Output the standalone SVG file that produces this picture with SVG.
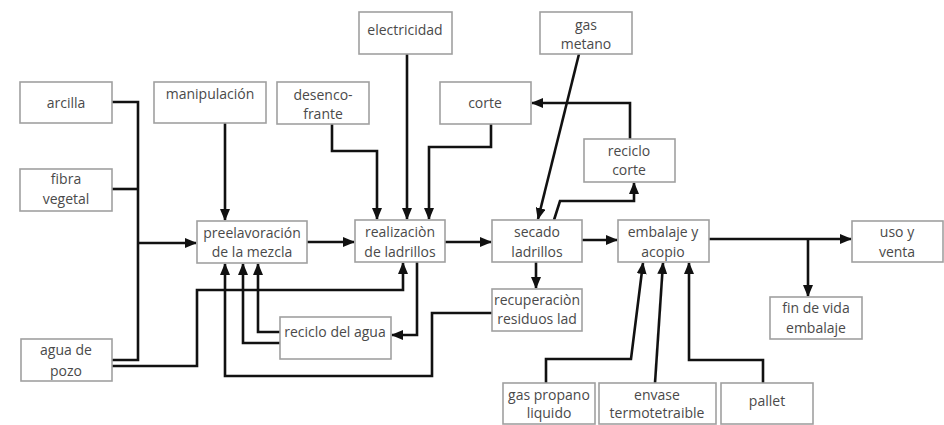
<svg xmlns="http://www.w3.org/2000/svg" width="944" height="425" viewBox="0 0 944 425">
<style>
.box{fill:#fff;stroke:#a0a0a0;stroke-width:1.6}
.t{font-family:"Open Sans","Noto Sans",sans-serif;font-size:14px;fill:#4a4a4a;text-anchor:middle}
.c{fill:none;stroke:#111;stroke-width:2.6;stroke-linejoin:miter}
</style>
<defs>
<marker id="a" markerUnits="userSpaceOnUse" markerWidth="12" markerHeight="10" refX="11" refY="5" orient="auto">
<path d="M0,0 L12,5 L0,10 Z" fill="#111"/>
</marker>
</defs>
<rect width="944" height="425" fill="#fff"/>
<g id="connectors">
<path class="c" d="M112,102 H138 V360 H112"/>
<path class="c" d="M112,189 H138"/>
<path class="c" d="M138,243 H196" marker-end="url(#a)"/>
<path class="c" d="M112,366 H197 V290 H403 V263" marker-end="url(#a)"/>
<path class="c" d="M225,123 V220" marker-end="url(#a)"/>
<path class="c" d="M307,242 H354" marker-end="url(#a)"/>
<path class="c" d="M445,242 H491" marker-end="url(#a)"/>
<path class="c" d="M582,240 H617" marker-end="url(#a)"/>
<path class="c" d="M709,239 H851" marker-end="url(#a)"/>
<path class="c" d="M808,239 V296" marker-end="url(#a)"/>
<path class="c" d="M332,124 V151 H377 V219" marker-end="url(#a)"/>
<path class="c" d="M407,54 V219" marker-end="url(#a)"/>
<path class="c" d="M491,124 V147 H429 V219" marker-end="url(#a)"/>
<path class="c" d="M579,54 L538,219" marker-end="url(#a)"/>
<path class="c" d="M630,139 V103 H532" marker-end="url(#a)"/>
<path class="c" d="M554,220 L560,201 H634 V183" marker-end="url(#a)"/>
<path class="c" d="M536,262 V288" marker-end="url(#a)"/>
<path class="c" d="M492,313 H432 V376 H225 V264" marker-end="url(#a)"/>
<path class="c" d="M417,262 V335 H392" marker-end="url(#a)"/>
<path class="c" d="M280,332 H258 V264" marker-end="url(#a)"/>
<path class="c" d="M280,343 H243 V264" marker-end="url(#a)"/>
<path class="c" d="M546,383 V359 H631 L643,263" marker-end="url(#a)"/>
<path class="c" d="M655,383 L663,263" marker-end="url(#a)"/>
<path class="c" d="M763,383 V360 H689 V263" marker-end="url(#a)"/>
</g>
<g id="arcilla"><rect class="box" x="20" y="82" width="92" height="41"/><text class="t" x="66" y="108">arcilla</text></g>
<g id="fibra"><rect class="box" x="20" y="169" width="92" height="42"/><text class="t" x="66" y="184">fibra</text><text class="t" x="66" y="204">vegetal</text></g>
<g id="agua-pozo"><rect class="box" x="21" y="339" width="91" height="42"/><text class="t" x="66" y="355">agua de</text><text class="t" x="66" y="376">pozo</text></g>
<g id="manipulacion"><rect class="box" x="154" y="82" width="112" height="41"/><text class="t" x="210" y="99">manipulación</text></g>
<g id="desencofrante"><rect class="box" x="277" y="82" width="92" height="42"/><text class="t" x="323" y="100">desenco-</text><text class="t" x="323" y="119">frante</text></g>
<g id="electricidad"><rect class="box" x="359" y="12" width="93" height="42"/><text class="t" x="405" y="35">electricidad</text></g>
<g id="corte"><rect class="box" x="440" y="82" width="91" height="42"/><text class="t" x="485" y="108">corte</text></g>
<g id="gas-metano"><rect class="box" x="540" y="12" width="92" height="42"/><text class="t" x="586" y="30">gas</text><text class="t" x="586" y="49">metano</text></g>
<g id="reciclo-corte"><rect class="box" x="584" y="139" width="91" height="43"/><text class="t" x="629" y="156">reciclo</text><text class="t" x="629" y="175">corte</text></g>
<g id="preelavoracion"><rect class="box" x="197" y="221" width="110" height="42"/><text class="t" x="252" y="238">preelavoración</text><text class="t" x="252" y="257">de la mezcla</text></g>
<g id="realizacion"><rect class="box" x="355" y="220" width="90" height="42"/><text class="t" x="400" y="237">realizaciòn</text><text class="t" x="400" y="257">de ladrillos</text></g>
<g id="secado"><rect class="box" x="492" y="220" width="90" height="42"/><text class="t" x="537" y="237">secado</text><text class="t" x="537" y="257">ladrillos</text></g>
<g id="embalaje"><rect class="box" x="618" y="220" width="91" height="42"/><text class="t" x="663" y="237">embalaje y</text><text class="t" x="663" y="257">acopio</text></g>
<g id="uso-venta"><rect class="box" x="852" y="221" width="91" height="41"/><text class="t" x="897" y="237">uso y</text><text class="t" x="897" y="257">venta</text></g>
<g id="fin-vida"><rect class="box" x="770" y="297" width="92" height="42"/><text class="t" x="816" y="313">fin de vida</text><text class="t" x="816" y="333">embalaje</text></g>
<g id="recuperacion"><rect class="box" x="492" y="289" width="90" height="42"/><text class="t" x="537" y="305">recuperaciòn</text><text class="t" x="537" y="324">residuos lad</text></g>
<g id="reciclo-agua"><rect class="box" x="280" y="317" width="111" height="42"/><text class="t" x="335" y="337">reciclo del agua</text></g>
<g id="gas-propano"><rect class="box" x="503" y="383" width="92" height="41"/><text class="t" x="549" y="400">gas propano</text><text class="t" x="549" y="418">liquido</text></g>
<g id="envase"><rect class="box" x="599" y="383" width="117" height="41"/><text class="t" x="657" y="400">envase</text><text class="t" x="657" y="418">termotetraible</text></g>
<g id="pallet"><rect class="box" x="721" y="383" width="92" height="41"/><text class="t" x="767" y="406">pallet</text></g>
</svg>
